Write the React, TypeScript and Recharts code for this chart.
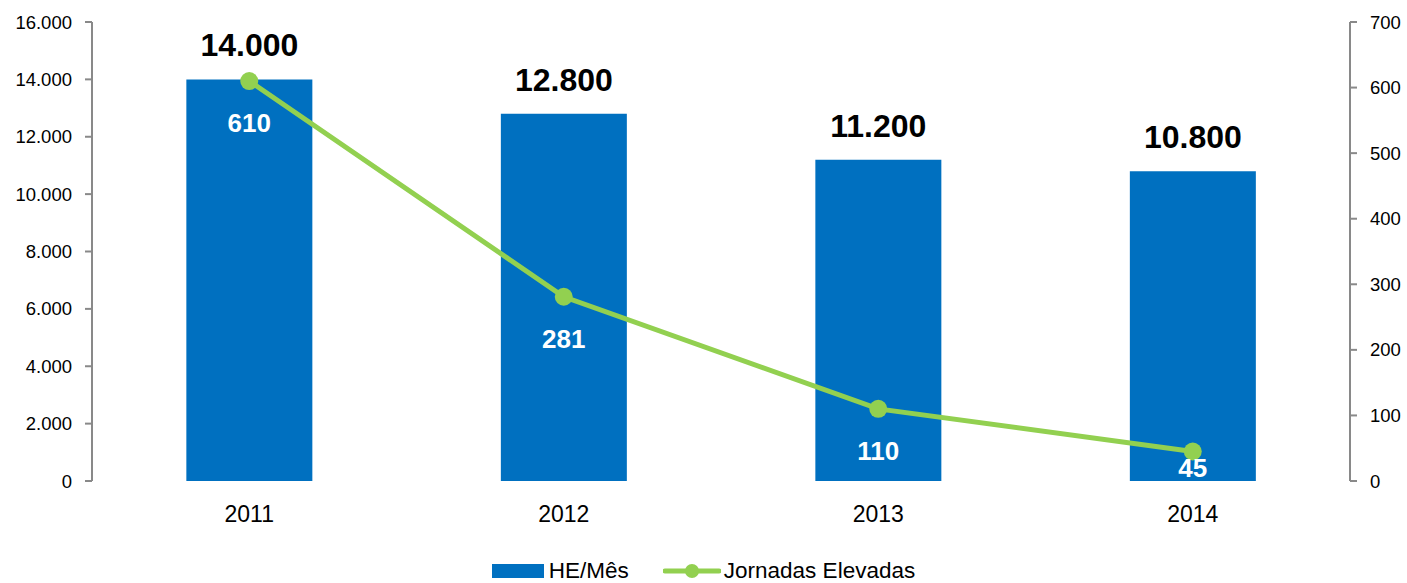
import React from 'react';
import { ComposedChart, Bar, Line, XAxis, YAxis, Legend, LabelList } from 'recharts';

const years = ['2011', '2012', '2013', '2014'];
const heMes = [14000, 12800, 11200, 10800];
const jornadas = [610, 281, 110, 45];
const leftTicks = [0, 2000, 4000, 6000, 8000, 10000, 12000, 14000, 16000];
const rightTicks = [0, 100, 200, 300, 400, 500, 600, 700];
const boundaryTicks = [0, 1, 2, 3, 4];

const data = years.map((year, i) => ({ idx: i + 0.5, year, he: heMes[i], jor: jornadas[i] }));

const FONT = '"Liberation Sans", Arial, sans-serif';
const BLUE = '#0070C0';
const GREEN = '#92D050';
const AXIS = '#898989';

const fmt = (v: number) => v.toLocaleString('de-DE');

const BarLabel = (props: any) => {
  const { x, y, width, value } = props;
  return (
    <text x={x + width / 2} y={y - 34} textAnchor="middle" dominantBaseline="central"
      fontFamily={FONT} fontSize={32} fontWeight="bold" fill="#000">
      {fmt(value)}
    </text>
  );
};

const LineLabel = (props: any) => {
  const { x, y, value } = props;
  return (
    <text x={x} y={Math.min(y + 42, 468)} textAnchor="middle" dominantBaseline="central"
      fontFamily={FONT} fontSize={26} fontWeight="bold" fill="#fff">
      {value}
    </text>
  );
};

const LegendBox = () => (
  <div style={{ display: 'flex', justifyContent: 'center', alignItems: 'center', height: 42, paddingTop: 18, boxSizing: 'border-box', fontFamily: FONT, fontSize: 22.5, color: '#000' }}>
    <svg width={52} height={14} style={{ marginRight: 5 }}>
      <rect x={0} y={0} width={52} height={14} fill={BLUE} />
    </svg>
    <span style={{ marginRight: 34 }}>HE/Mês</span>
    <svg width={58} height={18} style={{ marginRight: 3 }}>
      <line x1={2} y1={9} x2={56} y2={9} stroke={GREEN} strokeWidth={5} strokeLinecap="round" />
      <circle cx={29} cy={9} r={7} fill={GREEN} />
    </svg>
    <span>Jornadas Elevadas</span>
  </div>
);

export default function App() {
  return (
    <div style={{ position: 'absolute', left: 0, top: 0, background: '#fff' }}>
      <ComposedChart width={1407} height={583} data={data} barCategoryGap="30%"
        margin={{ top: 22, right: 0, bottom: 0, left: 0 }}>
        <XAxis xAxisId="edge" dataKey="idx" type="number" domain={[0, 4]} ticks={boundaryTicks}
          height={0} tick={false} tickSize={8} stroke={AXIS} strokeWidth={2} allowDataOverflow />
        <XAxis xAxisId="cat" dataKey="year" axisLine={false} tickLine={false} height={60}
          tickMargin={19} tick={{ fontFamily: FONT, fontSize: 23, fill: '#000' }} />
        <YAxis yAxisId="left" domain={[0, 16000]} ticks={leftTicks} tickFormatter={fmt} width={92}
          tickSize={7} tickMargin={13} stroke={AXIS} strokeWidth={2}
          tick={{ fontFamily: FONT, fontSize: 18.5, fill: '#000' }} />
        <YAxis yAxisId="right" orientation="right" domain={[0, 700]} ticks={rightTicks} width={57}
          tickSize={7} tickMargin={13} stroke={AXIS} strokeWidth={2}
          tick={{ fontFamily: FONT, fontSize: 18.5, fill: '#000', textAnchor: 'start' }} />
        <Legend verticalAlign="bottom" height={42} content={() => <LegendBox />} />
        <Bar xAxisId="cat" yAxisId="left" dataKey="he" fill={BLUE} isAnimationActive={false}>
          <LabelList dataKey="he" content={<BarLabel />} />
        </Bar>
        <Line xAxisId="cat" yAxisId="right" dataKey="jor" stroke={GREEN} strokeWidth={5}
          dot={{ r: 9, fill: GREEN, stroke: GREEN, strokeWidth: 0 }} isAnimationActive={false}>
          <LabelList dataKey="jor" content={<LineLabel />} />
        </Line>
      </ComposedChart>
    </div>
  );
}
